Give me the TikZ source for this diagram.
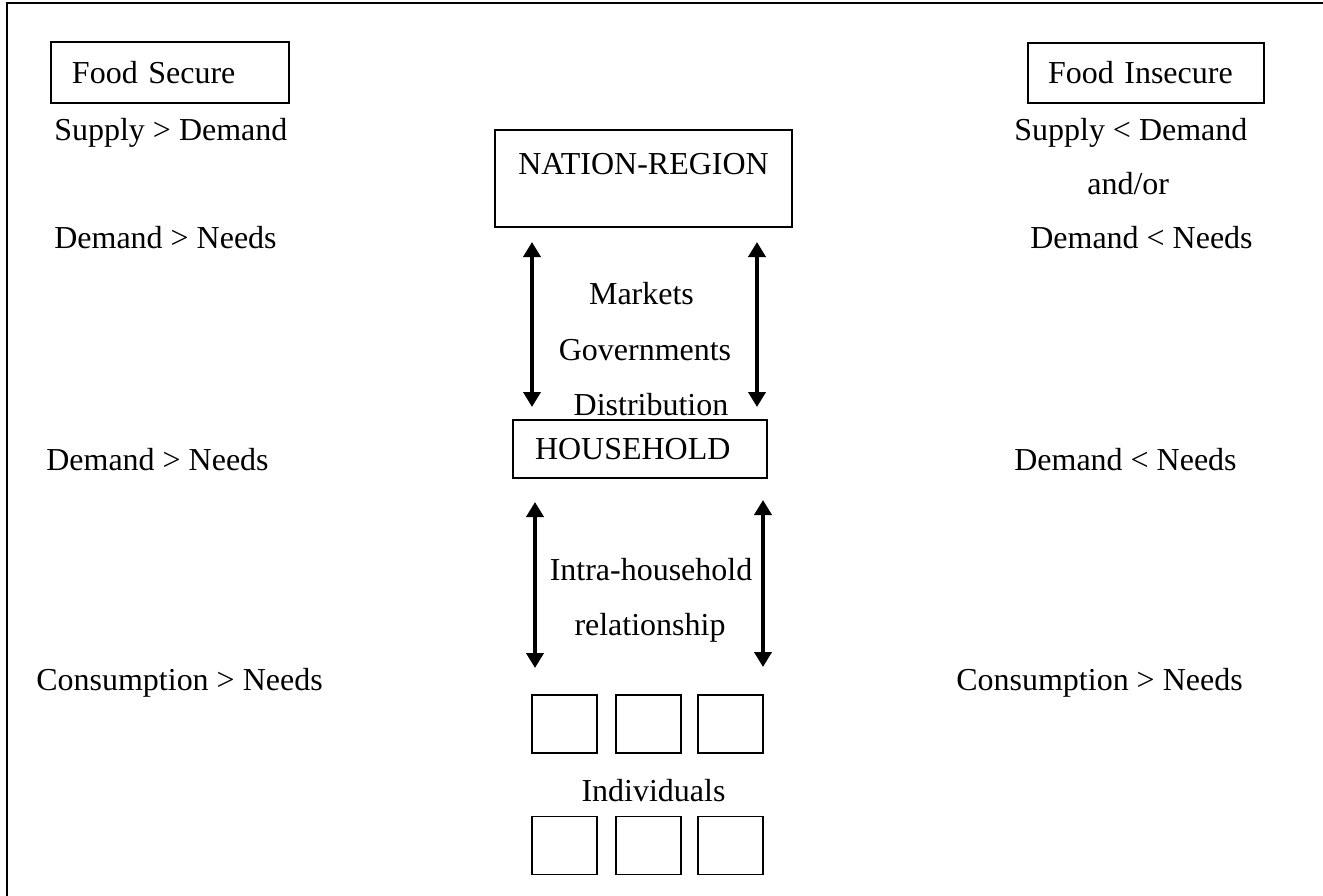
\documentclass[tikz,border=0pt]{standalone}
\usepackage{fontspec}
\setmainfont{Liberation Serif}
\usetikzlibrary{arrows.meta}
\tikzset{
      pageframe/.style={draw=black, line width=1.1pt},
      box/.style={draw=black, line width=1.1pt},
      leftbox/.style={draw=black, line width=1.1pt, align=left, inner xsep=0.42cm},
      relation/.style={draw=black, line width=2.2pt,
            arrows={Triangle[width=3.4mm,length=3mm]-Triangle[width=3.4mm,length=3mm]}},
      txt/.style={anchor=base west, inner sep=0pt},
      midtxt/.style={anchor=base, inner sep=0pt},
}
\begin{document}
\begin{tikzpicture}[font=\fontsize{18.2pt}{22pt}\selectfont]
        \useasboundingbox (0,0) rectangle (26.46,-17.92);

        % Draw the frame
        \coordinate (tl) at (0.14,-0.06);
        \coordinate (tr) at (26.46,-0.06);
        \coordinate (bl) at (0.14,-17.92);
        \draw[pageframe] (tr) -- (tl) -- (bl);

        % Draw the headings
        \node[leftbox, text width=3.92cm, minimum height=1.22cm] (secure) at (3.40,-1.45) {Food Secure};
        \node[leftbox, inner xsep=0.40cm, text width=3.92cm, minimum height=1.20cm] (insecure) at (22.92,-1.46) {Food Insecure};

        % Draw the levels
        \node[box, anchor=north, minimum width=5.94cm, inner ysep=0.46cm,
              text height=0.44cm, text depth=0.58cm] (nation) at (12.87,-2.58) {NATION-REGION};
        \node[leftbox, inner xsep=0.44cm, text width=4.20cm, minimum height=1.16cm] (household) at (12.80,-8.98) {HOUSEHOLD};

        \foreach \x/\n in {11.29/1, 12.97/2, 14.61/3} {
            \node[box, minimum width=1.3cm, minimum height=1.16cm] (indtop\n) at (\x,-14.48) {};
            \node[box, minimum width=1.3cm, minimum height=1.16cm] (indbot\n) at (\x,-16.91) {};
        }

        % Left side: food secure
        \node[txt] (supleft) at (1.08,-2.80) {Supply > Demand};
        \node[txt] (demleft) at (1.08,-4.96) {Demand > Needs};
        \node[txt] (hhleft) at (0.92,-9.40) {Demand > Needs};
        \node[txt] (conleft) at (0.72,-13.80) {Consumption > Needs};

        % Right side: food insecure
        \node[txt] (supright) at (20.28,-2.80) {Supply < Demand};
        \node[txt] (andor) at (21.74,-3.88) {and/or};
        \node[txt] (demright) at (20.60,-4.96) {Demand < Needs};
        \node[txt] (hhright) at (20.28,-9.40) {Demand < Needs};
        \node[txt] (conright) at (19.12,-13.80) {Consumption > Needs};

        % Middle texts
        \node[midtxt] (markets) at (12.83,-6.08) {Markets};
        \node[midtxt] (govs) at (12.90,-7.20) {Governments};
        \node[midtxt] (distrib) at (13.02,-8.30) {Distribution};
        \node[midtxt] (intra) at (13.02,-11.60) {Intra-household};
        \node[midtxt] (relship) at (13.00,-12.70) {relationship};
        \node[midtxt] (indiv) at (13.07,-16.02) {Individuals};

        % Draw the arrows
        \coordinate (nl) at (10.64,-4.84);
        \coordinate (nr) at (15.14,-4.84);
        \coordinate (hl) at (10.64,-8.14);
        \coordinate (hr) at (15.14,-8.14);
        \coordinate (hl2) at (10.70,-10.04);
        \coordinate (hr2) at (15.26,-10.00);
        \coordinate (il) at (10.70,-13.36);
        \coordinate (ir) at (15.26,-13.34);

        \draw[relation] (nl) -- (hl);
        \draw[relation] (nr) -- (hr);
        \draw[relation] (hl2) -- (il);
        \draw[relation] (hr2) -- (ir);

    \end{tikzpicture}
\end{document}
